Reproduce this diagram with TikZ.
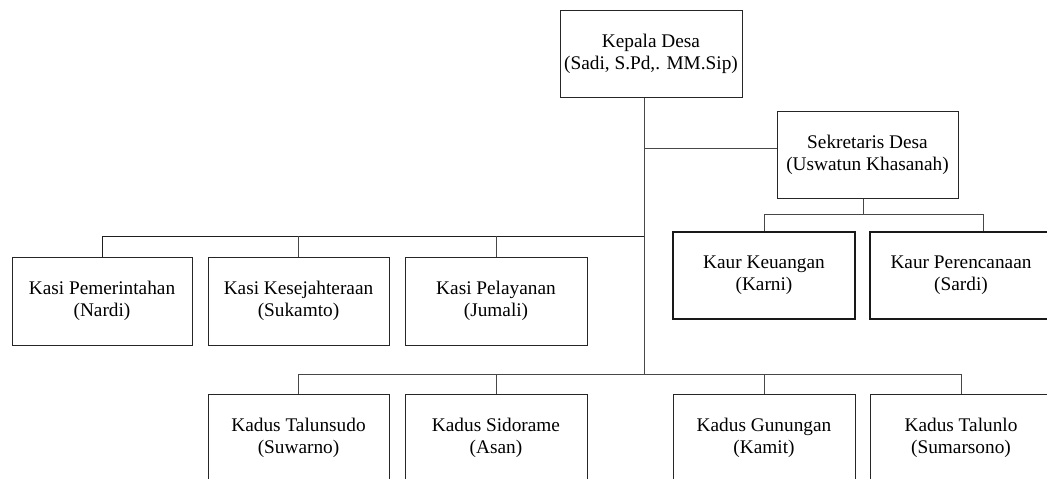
\documentclass[tikz,border=0pt]{standalone}
\usepackage{fontspec}
\setmainfont{Liberation Serif}
\begin{document}
\begin{tikzpicture}[x=1pt,y=-1pt,
  orgbox/.style={draw=black!85,line width=1pt,rectangle,minimum width=182pt,minimum height=87pt,
    inner sep=0pt,align=center,font=\fontsize{19.3}{22}\selectfont},
  boldbox/.style={orgbox,draw=black!90,line width=1.6pt},
  conn/.style={draw=black!72,line width=1pt}]
\clip (0,0) rectangle (1047,479);
\fill[white] (0,0) rectangle (1047,479);
% nodes
\node[orgbox] (kepala) at (651,53.5) {Kepala Desa\\(Sadi, S.Pd,. MM.Sip)};
\node[orgbox,minimum width=181pt] (sek) at (867.5,154.5) {Sekretaris Desa\\(Uswatun Khasanah)};
\node[boldbox] (kaur1) at (764,275.5) {Kaur Keuangan\\(Karni)};
\node[boldbox] (kaur2) at (961,275.5) {Kaur Perencanaan\\(Sardi)};
\node[orgbox,minimum width=180pt,minimum height=88pt] (kasi1) at (102,301) {Kasi Pemerintahan\\(Nardi)};
\node[orgbox,minimum width=181pt,minimum height=88pt] (kasi2) at (298.5,301) {Kasi Kesejahteraan\\(Sukamto)};
\node[orgbox,minimum height=88pt] (kasi3) at (496,301) {Kasi Pelayanan\\(Jumali)};
\node[orgbox,minimum width=181pt] (kadus1) at (298.5,437.5) {Kadus Talunsudo\\(Suwarno)};
\node[orgbox] (kadus2) at (496,437.5) {Kadus Sidorame\\(Asan)};
\node[orgbox] (kadus3) at (764,437.5) {Kadus Gunungan\\(Kamit)};
\node[orgbox] (kadus4) at (961,437.5) {Kadus Talunlo\\(Sumarsono)};
% junction coordinates
\coordinate (trunk) at (644,374);
\coordinate (sekj) at (644,148);
\coordinate (kb) at (644,236);
\coordinate (sb) at (863,214);
\coordinate (k2c) at (983,214);
% connectors
\draw[conn] (kepala.south -| trunk) -- (trunk);
\draw[conn] (sekj) -- (sekj -| sek.west);
\draw[conn] (sb |- sek.south) -- (sb);
\draw[conn] (kaur1.north) |- (k2c) -- (k2c |- kaur2.north);
\draw[conn,draw=black!88] (kasi1.north) |- (kb);
\draw[conn] (kasi2.north) -- (kasi2.north |- kb);
\draw[conn] (kasi3.north) -- (kasi3.north |- kb);
\draw[conn] (kadus1.north) |- (kadus4.north |- trunk) -- (kadus4.north);
\draw[conn] (kadus2.north) -- (kadus2.north |- trunk);
\draw[conn] (kadus3.north) -- (kadus3.north |- trunk);
\end{tikzpicture}
\end{document}
